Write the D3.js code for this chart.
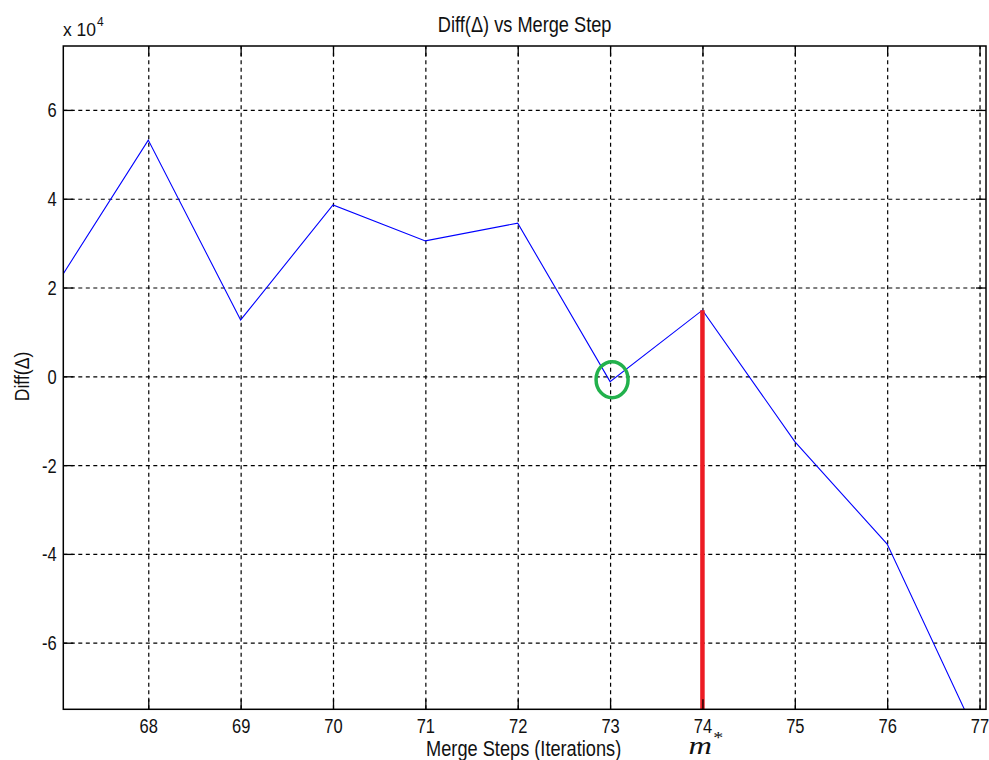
<!DOCTYPE html>
<html>
<head>
<meta charset="utf-8">
<script src="https://cdn.jsdelivr.net/npm/d3@7"></script>
<style>
  html, body { margin: 0; padding: 0; background: #fff; }
  svg { display: block; }
  text { font-family: "Liberation Sans", Arial, sans-serif; fill: #111; }
</style>
</head>
<body>
<svg id="chart" width="989" height="760"></svg>
<script>
// Merge step index and the change in the objective (in units of 1e4)
const steps = [67, 68, 69, 70, 71, 72, 73, 74, 75, 76, 77];
const diffValues = [2.05, 5.32, 1.27, 3.86, 3.05, 3.45, -0.12, 1.49, -1.47, -3.78, -8.23];
const xTicks = [68, 69, 70, 71, 72, 73, 74, 75, 76, 77];
const yTicks = [-6, -4, -2, 0, 2, 4, 6];
const xDomain = [67.08, 77.07];
const yDomain = [-7.5, 7.44];
const optimumStep = 74;   // m*, marked with the red bar
const circledStep = 73;   // first step where the difference dips below zero

const W = 989, H = 760;
const m = { left: 63.3, top: 46, right: 3, bottom: 50.7 };
const iw = W - m.left - m.right, ih = H - m.top - m.bottom;

const svg = d3.select("#chart");

const x = d3.scaleLinear().domain(xDomain).range([0, iw]);
const y = d3.scaleLinear().domain(yDomain).range([ih, 0]);

// m* annotation under the step axis
const ms = svg.append("text")
  .attr("transform", `translate(${m.left + x(optimumStep) - 14},754) scale(1.25,1)`)
  .style("font-family", "'Liberation Serif', 'DejaVu Serif', serif")
  .attr("font-style", "italic").attr("font-size", 26);
ms.append("tspan").text("m");
ms.append("tspan").attr("font-size", 16).attr("dy", -11).attr("dx", 1).attr("font-style", "normal").text("*");

const g = svg.append("g").attr("transform", `translate(${m.left},${m.top})`);

svg.append("defs").append("clipPath").attr("id", "plotClip")
  .append("rect").attr("width", iw).attr("height", ih);

const plain = d => String(d);

// dashed grid
const gridStyle = sel => {
  sel.select(".domain").remove();
  sel.selectAll("line").attr("stroke", "#000").attr("stroke-width", 1.2)
    .attr("stroke-dasharray", "4,3.5");
};
g.append("g").attr("transform", `translate(0,${ih})`)
  .call(d3.axisBottom(x).tickValues(xTicks).tickSize(-ih).tickFormat(""))
  .call(gridStyle);
g.append("g")
  .call(d3.axisLeft(y).tickValues(yTicks).tickSize(-iw).tickFormat(""))
  .call(gridStyle);

// data line
const line = d3.line().x((d, i) => x(steps[i])).y(d => y(d));
g.append("path")
  .attr("clip-path", "url(#plotClip)")
  .attr("d", line(diffValues))
  .attr("fill", "none").attr("stroke", "#0000ff").attr("stroke-width", 1.1);

// m* bar
const optVal = diffValues[steps.indexOf(optimumStep)];
g.append("line")
  .attr("clip-path", "url(#plotClip)")
  .attr("x1", x(optimumStep)).attr("x2", x(optimumStep))
  .attr("y1", y(optVal)).attr("y2", y(yDomain[0]))
  .attr("stroke", "#ed1c24").attr("stroke-width", 4.5);

// circle round the first negative dip
const cVal = diffValues[steps.indexOf(circledStep)];
g.append("ellipse")
  .attr("cx", x(circledStep) + 2).attr("cy", y(cVal) - 2)
  .attr("rx", 16).attr("ry", 18)
  .attr("fill", "none").attr("stroke", "#22b14c").attr("stroke-width", 3.5);

// box and inward ticks on all four sides
const TS = 10;
const tickStyle = sel => {
  sel.select(".domain").remove();
  sel.selectAll("line").attr("stroke", "#000").attr("stroke-width", 1.3);
};
const bottomAxis = g.append("g").attr("transform", `translate(0,${ih})`)
  .call(d3.axisBottom(x).tickValues(xTicks).tickSize(-TS).tickFormat(plain))
  .call(tickStyle);
g.append("g")
  .call(d3.axisTop(x).tickValues(xTicks).tickSize(-TS).tickFormat(""))
  .call(tickStyle);
const leftAxis = g.append("g")
  .call(d3.axisLeft(y).tickValues(yTicks).tickSize(-TS).tickFormat(plain))
  .call(tickStyle);
g.append("g").attr("transform", `translate(${iw},0)`)
  .call(d3.axisRight(y).tickValues(yTicks).tickSize(-TS).tickFormat(""))
  .call(tickStyle);

g.append("rect").attr("width", iw).attr("height", ih)
  .attr("fill", "none").attr("stroke", "#000").attr("stroke-width", 1.5);

// tick labels: tall narrow glyphs
const SY = 1.2;
bottomAxis.selectAll(".tick text")
  .attr("y", null).attr("dy", null)
  .attr("font-size", 16.5).attr("text-anchor", "middle")
  .attr("transform", `translate(0,23.2) scale(1,${SY})`);
leftAxis.selectAll(".tick text")
  .attr("x", null).attr("dy", null)
  .attr("font-size", 16.5).attr("text-anchor", "end")
  .attr("transform", `translate(-6.6,7) scale(1,${SY})`);

// titles
const cx = iw / 2;
svg.append("text")
  .attr("text-anchor", "middle").attr("font-size", 18.2)
  .attr("transform", `translate(${m.left + cx},31.5) scale(1,${SY})`)
  .text("Diff(Δ) vs Merge Step");
svg.append("text")
  .attr("text-anchor", "middle").attr("font-size", 18.2)
  .attr("transform", `translate(${m.left + cx - 1},755.5) scale(1,${SY})`)
  .text("Merge Steps (Iterations)");
svg.append("text")
  .attr("text-anchor", "middle").attr("font-size", 17.6)
  .attr("transform", `translate(28.5,376.5) rotate(-90) scale(1,${SY})`)
  .text("Diff(Δ)");

// exponent label
const ex = svg.append("text").attr("font-size", 17.5)
  .attr("transform", `translate(63,36)`);
ex.append("tspan").text("x 10");
ex.append("tspan").attr("font-size", 12).attr("dy", -10).attr("dx", 1).text("4");
</script>
</body>
</html>
